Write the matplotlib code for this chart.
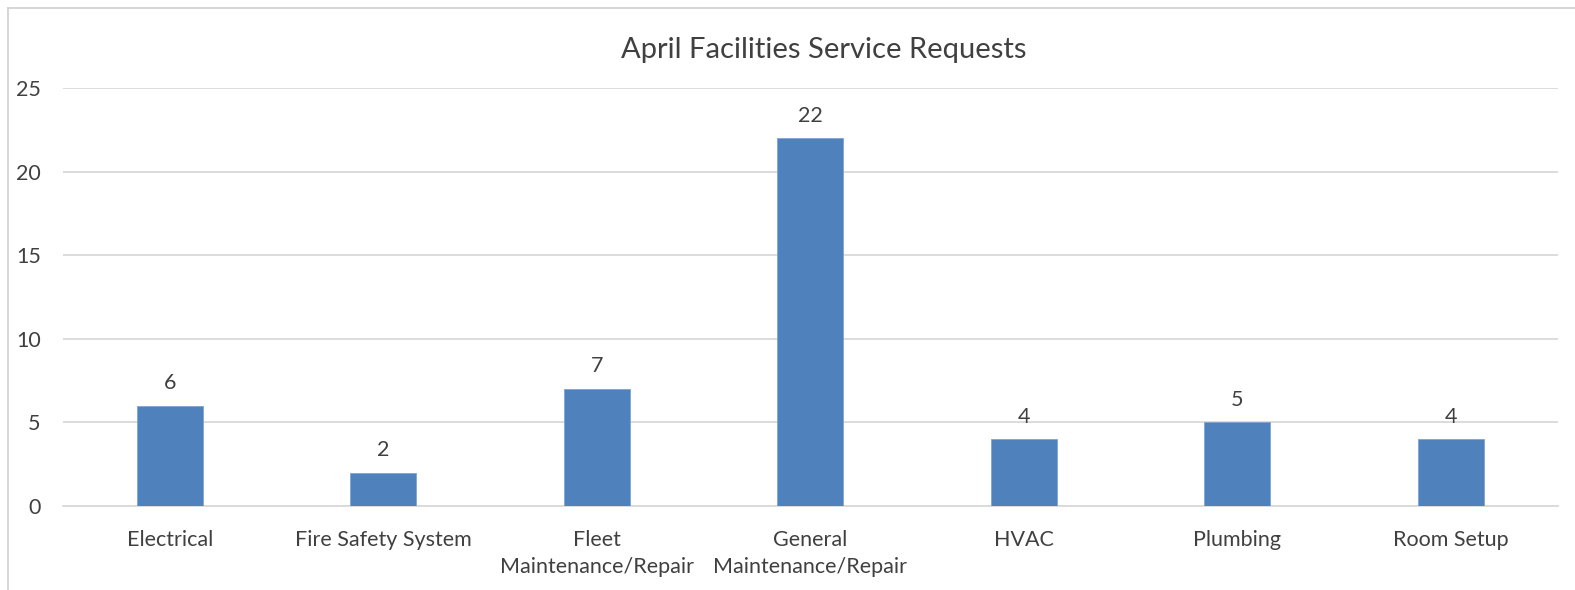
import matplotlib.pyplot as plt
import numpy as np

categories = ['Electrical', 'Fire Safety System', 'Fleet\nMaintenance/Repair',
              'General\nMaintenance/Repair', 'HVAC', 'Plumbing', 'Room Setup']
requests = [6, 2, 7, 22, 4, 5, 4]

plt.rcParams['font.family'] = ['Lato', 'DejaVu Sans']
text_color = '#404040'
grid_color = '#d9d9d9'

fig = plt.figure(figsize=(15.75, 5.9), dpi=100)
ax = fig.add_axes([0.040, 0.1424, 0.949, 0.7084])

x = np.arange(len(categories))
bars = ax.bar(x, requests, width=0.31, color='#4f81bd', edgecolor='#7ea3d3', linewidth=0.6, zorder=3)

# data labels above each bar
for xi, v in zip(x, requests):
    ax.annotate(str(v), (xi, v), xytext=(0, 9), textcoords='offset points',
                ha='center', va='bottom', fontsize=15.5, color=text_color)

ax.set_xlim(-0.5, len(categories) - 0.5)
ax.set_ylim(0, 25)
ax.set_yticks(range(0, 26, 5))
ax.set_xticks(x)
ax.set_xticklabels(categories, fontsize=15.5, color=text_color, linespacing=1.45)
ax.tick_params(axis='y', labelsize=15.5, labelcolor=text_color, length=0, pad=16)
ax.tick_params(axis='x', length=0, pad=17)
ax.grid(axis='y', color=grid_color, linewidth=1.3, zorder=0)
for s in ['top', 'right', 'left']:
    ax.spines[s].set_visible(False)
ax.spines['bottom'].set_color(grid_color)
ax.spines['bottom'].set_linewidth(1.3)

fig.text(0.523, 0.915, 'April Facilities Service Requests', ha='center', va='center',
         fontsize=21, color=text_color)

# chart border (only top and left visible in the crop)
fig.add_artist(plt.Line2D([8 / 1575, 1.0], [1 - 8 / 590] * 2, color='#d0d0d0', linewidth=1.2))
fig.add_artist(plt.Line2D([8 / 1575] * 2, [0, 1 - 8 / 590], color='#d0d0d0', linewidth=1.2))

fig.savefig('out.png', dpi=100, facecolor='white')
